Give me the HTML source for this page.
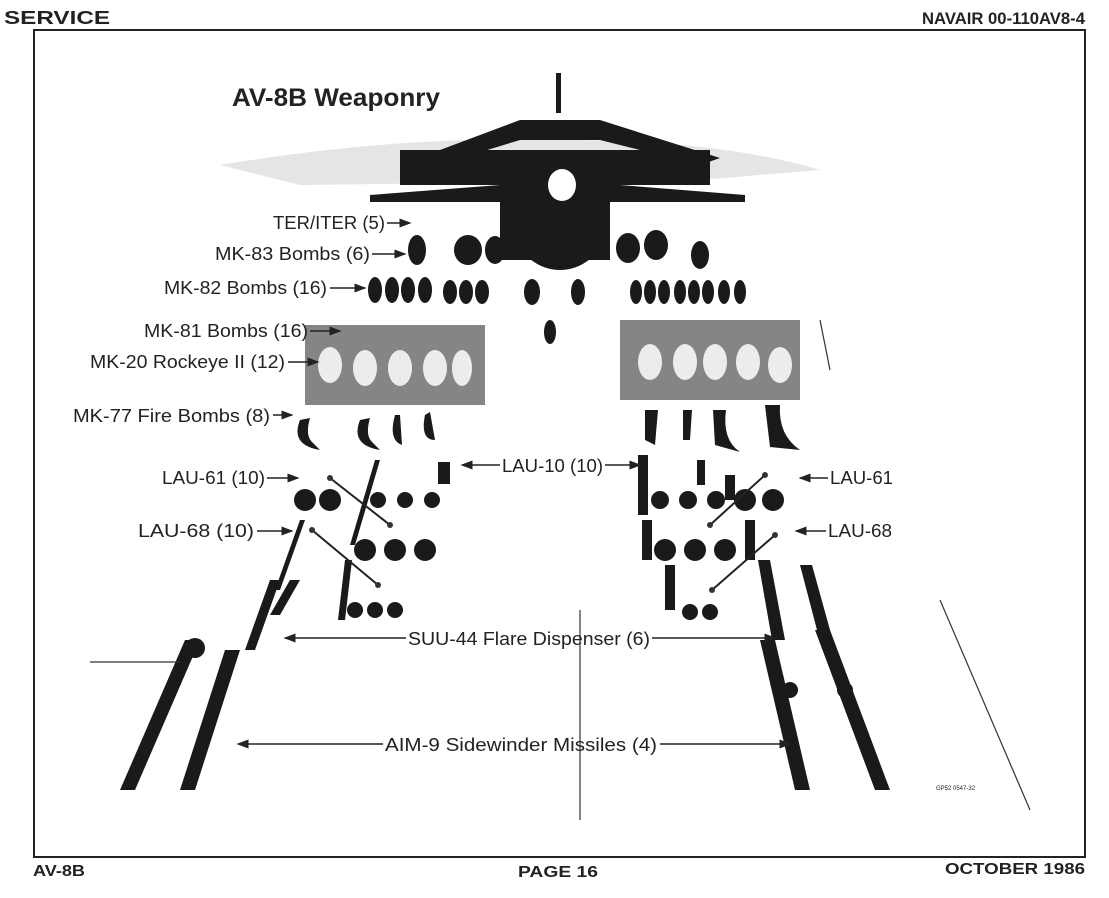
<!DOCTYPE html>
<html><head><meta charset="utf-8"><style>
html,body{margin:0;padding:0;background:#fff;}
svg{display:block;}
text{font-family:"Liberation Sans",sans-serif;fill:#222;}
</style></head><body>
<svg width="1109" height="898" viewBox="0 0 1109 898" xmlns="http://www.w3.org/2000/svg">
<defs><marker id="a" markerWidth="8" markerHeight="6" refX="7" refY="3" orient="auto"><path d="M0 0 L8 3 L0 6Z" fill="#222"/></marker></defs>
<rect x="0" y="0" width="1109" height="898" fill="#fff"/>
<text x="4" y="24" font-size="18" font-weight="bold" textLength="106" lengthAdjust="spacingAndGlyphs">SERVICE</text>
<text x="922" y="24" font-size="17" font-weight="bold" textLength="163" lengthAdjust="spacingAndGlyphs">NAVAIR 00-110AV8-4</text>
<rect x="34" y="30" width="1051" height="827" fill="none" stroke="#222" stroke-width="2"/>
<text x="33" y="876" font-size="16" font-weight="bold" textLength="52" lengthAdjust="spacingAndGlyphs">AV-8B</text>
<text x="518" y="877" font-size="16" font-weight="bold" textLength="80" lengthAdjust="spacingAndGlyphs">PAGE 16</text>
<text x="945" y="874" font-size="16" font-weight="bold" textLength="140" lengthAdjust="spacingAndGlyphs">OCTOBER 1986</text>
<text x="232" y="106" font-size="25" font-weight="bold" textLength="208" lengthAdjust="spacingAndGlyphs">AV-8B Weaponry</text>

<path d="M220 165 Q400 135 560 140 Q720 140 820 170 L700 180 L300 185 Z" fill="#ccc" opacity="0.5"/>
<g fill="#1a1a1a">
<rect x="556" y="73" width="5" height="40"/>
<polygon points="400,165 520,120 600,120 720,158 700,165 600,140 520,140 415,172"/>
<rect x="400" y="150" width="310" height="35"/>
<polygon points="370,195 500,185 620,185 745,195 745,202 370,202"/>
<ellipse cx="560" cy="215" rx="50" ry="55"/>
<rect x="500" y="200" width="110" height="60"/>
</g>
<ellipse cx="562" cy="185" rx="14" ry="16" fill="#fff"/>
<g fill="#1a1a1a">
<ellipse cx="417" cy="250" rx="9" ry="15"/><ellipse cx="468" cy="250" rx="14" ry="15"/><ellipse cx="495" cy="250" rx="10" ry="14"/>
<ellipse cx="628" cy="248" rx="12" ry="15"/><ellipse cx="656" cy="245" rx="12" ry="15"/><ellipse cx="700" cy="255" rx="9" ry="14"/>
</g>
<g fill="#1a1a1a">
<ellipse cx="375" cy="290" rx="7" ry="13"/><ellipse cx="392" cy="290" rx="7" ry="13"/><ellipse cx="408" cy="290" rx="7" ry="13"/><ellipse cx="425" cy="290" rx="7" ry="13"/>
<ellipse cx="450" cy="292" rx="7" ry="12"/><ellipse cx="466" cy="292" rx="7" ry="12"/><ellipse cx="482" cy="292" rx="7" ry="12"/>
<ellipse cx="532" cy="292" rx="8" ry="13"/><ellipse cx="578" cy="292" rx="7" ry="13"/>
<ellipse cx="636" cy="292" rx="6" ry="12"/><ellipse cx="650" cy="292" rx="6" ry="12"/><ellipse cx="664" cy="292" rx="6" ry="12"/><ellipse cx="680" cy="292" rx="6" ry="12"/><ellipse cx="694" cy="292" rx="6" ry="12"/><ellipse cx="708" cy="292" rx="6" ry="12"/><ellipse cx="724" cy="292" rx="6" ry="12"/><ellipse cx="740" cy="292" rx="6" ry="12"/>
<ellipse cx="550" cy="332" rx="6" ry="12"/>
</g>
<g fill="#333">
<rect x="305" y="325" width="180" height="80" opacity="0.6"/>
<rect x="620" y="320" width="180" height="80" opacity="0.6"/>
</g>
<g fill="#fff" opacity="0.85">
<ellipse cx="330" cy="365" rx="12" ry="18"/><ellipse cx="365" cy="368" rx="12" ry="18"/><ellipse cx="400" cy="368" rx="12" ry="18"/><ellipse cx="435" cy="368" rx="12" ry="18"/><ellipse cx="462" cy="368" rx="10" ry="18"/>
<ellipse cx="650" cy="362" rx="12" ry="18"/><ellipse cx="685" cy="362" rx="12" ry="18"/><ellipse cx="715" cy="362" rx="12" ry="18"/><ellipse cx="748" cy="362" rx="12" ry="18"/><ellipse cx="780" cy="365" rx="12" ry="18"/>
</g>
<g fill="#1a1a1a">
<path d="M300 420 Q290 445 320 450 L312 442 Q305 435 310 418Z"/><path d="M360 420 Q350 445 380 450 L372 442 Q365 435 370 418Z"/><path d="M395 415 Q388 440 402 445 L400 415Z"/><path d="M425 415 Q420 440 435 440 L430 412Z"/>
<path d="M645 410 L658 410 L655 445 L645 440Z"/><path d="M683 410 L692 410 L690 440 L683 440Z"/><path d="M713 410 L726 410 Q722 440 740 452 L715 445Z"/><path d="M765 405 L780 405 Q778 435 800 450 L770 447Z"/>
</g>
<g fill="#1a1a1a">
<circle cx="305" cy="500" r="11"/><circle cx="330" cy="500" r="11"/><circle cx="378" cy="500" r="8"/><circle cx="405" cy="500" r="8"/><circle cx="432" cy="500" r="8"/>
<rect x="438" y="462" width="12" height="22"/>
<circle cx="365" cy="550" r="11"/><circle cx="395" cy="550" r="11"/><circle cx="425" cy="550" r="11"/>
<circle cx="355" cy="610" r="8"/><circle cx="375" cy="610" r="8"/><circle cx="395" cy="610" r="8"/>
<circle cx="660" cy="500" r="9"/><circle cx="688" cy="500" r="9"/><circle cx="716" cy="500" r="9"/><circle cx="745" cy="500" r="11"/><circle cx="773" cy="500" r="11"/>
<circle cx="665" cy="550" r="11"/><circle cx="695" cy="550" r="11"/><circle cx="725" cy="550" r="11"/>
<circle cx="690" cy="612" r="8"/><circle cx="710" cy="612" r="8"/>
<rect x="638" y="455" width="10" height="60"/><rect x="642" y="520" width="10" height="40"/><rect x="665" y="565" width="10" height="45"/>
<rect x="697" y="460" width="8" height="25"/><rect x="725" y="475" width="10" height="25"/>
<rect x="745" y="520" width="10" height="40"/>
<polygon points="270,580 280,580 255,650 245,650"/><polygon points="290,580 300,580 280,615 270,615"/>
<polygon points="345,560 352,560 345,620 338,620"/>
<polygon points="375,460 380,460 355,545 350,545"/>
<polygon points="300,520 305,520 280,590 275,590"/>
<polygon points="758,560 770,560 785,640 772,640"/><polygon points="800,565 812,565 830,630 817,630"/>
<polygon points="185,640 200,640 135,790 120,790"/>
<polygon points="225,650 240,650 195,790 180,790"/>
<polygon points="760,640 775,640 810,790 795,790"/>
<polygon points="815,630 830,630 890,790 875,790"/>
<circle cx="195" cy="648" r="10"/><circle cx="790" cy="690" r="8"/><circle cx="845" cy="690" r="8"/>
</g>
<g stroke="#222" stroke-width="2">
<line x1="330" y1="478" x2="390" y2="525"/><line x1="312" y1="530" x2="378" y2="585"/>
<line x1="765" y1="475" x2="710" y2="525"/><line x1="775" y1="535" x2="712" y2="590"/>
</g>
<g fill="#333"><circle cx="390" cy="525" r="3"/><circle cx="378" cy="585" r="3"/><circle cx="710" cy="525" r="3"/><circle cx="712" cy="590" r="3"/><circle cx="330" cy="478" r="3"/><circle cx="765" cy="475" r="3"/><circle cx="312" cy="530" r="3"/><circle cx="775" cy="535" r="3"/></g>
<g stroke="#333" stroke-width="1.2">
<line x1="90" y1="662" x2="180" y2="662"/><line x1="580" y1="610" x2="580" y2="820"/><line x1="940" y1="600" x2="1030" y2="810"/>
<line x1="820" y1="320" x2="830" y2="370"/>
</g>

<g font-size="18">
<text x="273" y="229" textLength="112" lengthAdjust="spacingAndGlyphs">TER/ITER (5)</text>
<text x="215" y="260" textLength="155" lengthAdjust="spacingAndGlyphs">MK-83 Bombs (6)</text>
<text x="164" y="294" textLength="163" lengthAdjust="spacingAndGlyphs">MK-82 Bombs (16)</text>
<text x="144" y="337" textLength="164" lengthAdjust="spacingAndGlyphs">MK-81 Bombs (16)</text>
<text x="90" y="368" textLength="195" lengthAdjust="spacingAndGlyphs">MK-20 Rockeye II (12)</text>
<text x="73" y="422" textLength="197" lengthAdjust="spacingAndGlyphs">MK-77 Fire Bombs (8)</text>
<text x="162" y="484" textLength="103" lengthAdjust="spacingAndGlyphs">LAU-61 (10)</text>
<text x="138" y="537" textLength="116" lengthAdjust="spacingAndGlyphs">LAU-68 (10)</text>
<text x="502" y="472" textLength="101" lengthAdjust="spacingAndGlyphs">LAU-10 (10)</text>
<text x="830" y="484" textLength="63" lengthAdjust="spacingAndGlyphs">LAU-61</text>
<text x="828" y="537" textLength="64" lengthAdjust="spacingAndGlyphs">LAU-68</text>
<text x="408" y="645" textLength="242" lengthAdjust="spacingAndGlyphs">SUU-44 Flare Dispenser (6)</text>
<text x="385" y="751" textLength="272" lengthAdjust="spacingAndGlyphs">AIM-9 Sidewinder Missiles (4)</text>
</g>
<text x="936" y="790" font-size="6">GP52 0547-32</text>
<g stroke="#222" stroke-width="1.5" marker-end="url(#a)">
<line x1="387" y1="223" x2="410" y2="223"/><line x1="372" y1="254" x2="405" y2="254"/><line x1="330" y1="288" x2="365" y2="288"/>
<line x1="310" y1="331" x2="340" y2="331"/><line x1="288" y1="362" x2="318" y2="362"/><line x1="273" y1="415" x2="292" y2="415"/>
<line x1="267" y1="478" x2="298" y2="478"/><line x1="257" y1="531" x2="292" y2="531"/>
<line x1="500" y1="465" x2="462" y2="465"/><line x1="605" y1="465" x2="640" y2="465"/>
<line x1="828" y1="478" x2="800" y2="478"/><line x1="826" y1="531" x2="796" y2="531"/>
<line x1="406" y1="638" x2="285" y2="638"/><line x1="652" y1="638" x2="775" y2="638"/>
<line x1="383" y1="744" x2="238" y2="744"/><line x1="660" y1="744" x2="790" y2="744"/>
</g>
</svg>
</body></html>
